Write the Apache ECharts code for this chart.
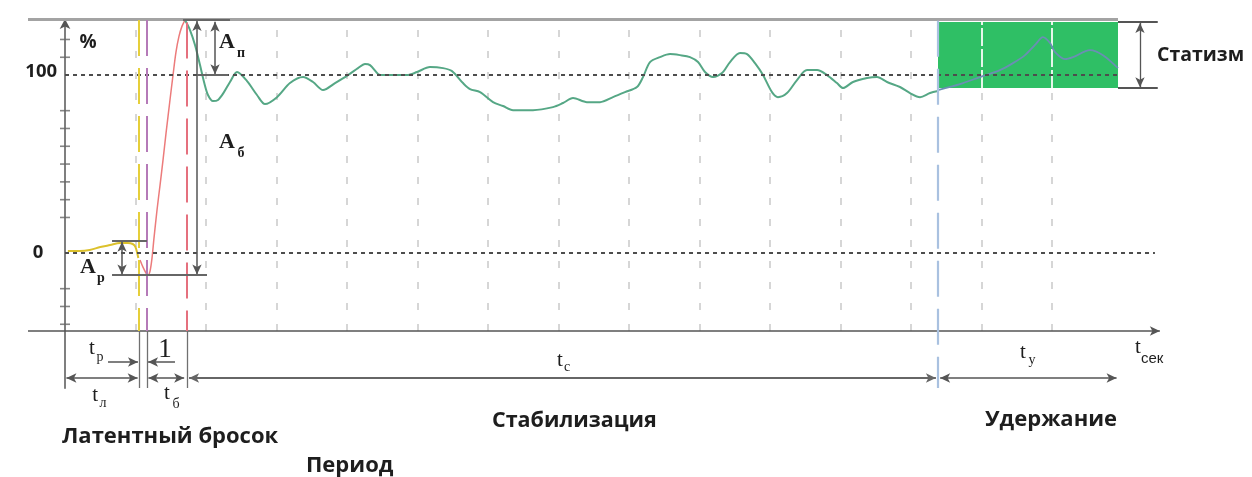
<!DOCTYPE html>
<html><head><meta charset="utf-8">
<script src="https://cdn.jsdelivr.net/npm/echarts@6/dist/echarts.min.js"></script>
<style>html,body{margin:0;padding:0;background:#fff}#c{width:1252px;height:477px}</style>
</head><body><div id="c"></div>
<script>
// ---- data (x in time units, y in %) ----
const latentCurve = [[0.04,1.1],[0.21,1.1],[0.35,1.7],[0.50,3.4],[0.64,4.5],[0.78,5.6],[0.89,5.6],[0.96,5.1],[1.00,3.4],[1.04,-2.8]];
const throwCurve = [[1.064,-3.9],[1.106,-7.9],[1.149,-11.2],[1.177,-12.4],[1.206,-10.1],[1.234,-2.8],[1.262,8.4],[1.305,24.2],[1.348,38.2],[1.390,52.2],[1.433,67.4],[1.489,86.0],[1.532,100.0],[1.574,112.9],[1.617,121.9],[1.660,127.5],[1.702,130.9]];
const stabCurve = [[1.702,130.9],[1.773,125.3],[1.844,116.9],[1.915,105.6],[1.972,96.1],[2.028,88.8],[2.099,85.4],[2.170,86.0],[2.255,90.4],[2.340,96.1],[2.440,101.7],[2.582,96.6],[2.723,88.8],[2.837,83.7],[3.007,87.6],[3.191,95.5],[3.376,98.9],[3.518,96.1],[3.660,91.6],[3.830,95.5],[4.014,100.0],[4.156,103.9],[4.255,106.2],[4.326,105.6],[4.440,100.6],[4.496,100.0],[4.851,100.0],[4.993,101.7],[5.177,104.5],[5.362,103.9],[5.489,102.2],[5.645,95.5],[5.745,92.1],[5.887,90.4],[6.071,84.8],[6.213,82.6],[6.355,80.3],[6.638,80.3],[6.922,82.0],[7.064,84.3],[7.206,87.1],[7.404,84.8],[7.589,84.8],[7.773,87.6],[7.943,90.4],[8.113,93.3],[8.199,98.9],[8.298,107.3],[8.440,110.1],[8.582,111.8],[8.723,111.2],[8.865,110.1],[8.979,107.3],[9.078,101.7],[9.191,98.9],[9.319,101.1],[9.433,107.3],[9.574,112.4],[9.674,111.8],[9.787,106.7],[9.901,100.0],[10.028,90.4],[10.113,87.6],[10.241,89.9],[10.383,97.2],[10.525,102.8],[10.667,102.8],[10.809,100.0],[10.950,95.5],[11.035,92.7],[11.177,96.1],[11.376,98.3],[11.518,98.9],[11.660,96.1],[11.844,93.3],[11.986,89.9],[12.128,87.6],[12.270,89.9],[12.383,91.0]];
const holdCurve = [[12.383,91.6],[12.695,94.9],[12.979,98.9],[13.262,102.8],[13.447,106.7],[13.617,111.2],[13.759,116.9],[13.872,121.3],[13.972,118.0],[14.043,112.9],[14.184,109.0],[14.298,110.1],[14.539,114.0],[14.723,111.2],[14.936,103.9]];
const refLevels = [0, 100];
const yTicks = [-40,-30,-20,20,30,40,50,60,70,80,110,120];
const gridTicks = [1,2,3,4,5,6,7,8,9,10,11,12,13,14];
// phase boundaries
const phase = {start:0, latEnd:1.05, throwStart:1.163, throwEnd:1.73, stabEnd:12.383, holdEnd:14.936};
const ampl = {ApTop:6.7, ApBottom:-12.4, peak:130.9, statLow:92.7, statHigh:129.8};

// ---- layout ----
const X0=-0.525, X1=15.6, Y0=-76, Y1=131.5;
const AXIS_Y = -43.8, DIM1 = -61.2, DIM2 = -70.2, EXT = -75.8, TOP = 131.5, XEND = 15.53;

const chart = echarts.init(document.getElementById('c'));
const dark = '#555';
function seg(p1, p2, style, s1, s2) {
  return [{coord:p1, symbol:s1||'none', symbolSize:[7,10], lineStyle:style}, {coord:p2, symbol:s2||'none', symbolSize:[7,10]}];
}
const solid = (c,w)=>({color:c,width:w,type:'solid'});
const dash = (c,w,d)=>({color:c,width:w,type:d});

const gridLines = [];
gridTicks.forEach(t=>{
  if (t > phase.stabEnd && t < phase.holdEnd) {
    gridLines.push(seg([t,AXIS_Y],[t,ampl.statLow],dash('#c9c9c9',1.5,[7,14])));
    gridLines.push(seg([t,ampl.statLow],[t,ampl.statHigh],dash('#e6f6ea',2,[18,3])));
  } else {
    gridLines.push(seg([t,AXIS_Y],[t,TOP-1],dash('#c9c9c9',1.5,[7,14])));
  }
});

const ann = [];
ann.push(seg([X0,TOP-0.4],[phase.holdEnd,TOP-0.4],solid('#a3a3a3',3)));
ann.push(seg([0,refLevels[1]],[phase.holdEnd,refLevels[1]],dash('#4d4d4d',2,[4,4])));
ann.push(seg([0,refLevels[0]],[15.46,refLevels[0]],dash('#4d4d4d',2,[4,4])));
ann.push(seg([X0,AXIS_Y],[XEND,AXIS_Y],solid(dark,1.6),'none','arrow'));
ann.push(seg([phase.latEnd,TOP-0.5],[phase.latEnd,AXIS_Y],dash('#e6cf3a',2,[36,12])));
ann.push(seg([phase.throwStart,TOP-0.5],[phase.throwStart,AXIS_Y],dash('#b57ab8',2,[36,12])));
ann.push(seg([phase.throwEnd,TOP-2],[phase.throwEnd,AXIS_Y],dash('#e5707e',2,[36,12])));
ann.push(seg([phase.stabEnd,TOP-1],[phase.stabEnd,EXT],dash('#a9c1e0',2.2,[36,12])));
[phase.latEnd, phase.throwStart, phase.throwEnd].forEach(v=>ann.push(seg([v,AXIS_Y],[v,EXT],solid('#707070',1.3))));
ann.push(seg([phase.holdEnd,ampl.statLow],[phase.holdEnd,EXT-1],solid('#666',1.6)));
ann.push(seg([0.61,DIM1],[phase.latEnd-0.015,DIM1],solid(dark,1.5),'none','arrow'));
ann.push(seg([1.56,DIM1],[phase.throwStart+0.015,DIM1],solid(dark,1.5),'none','arrow'));
ann.push(seg([phase.start+0.02,DIM2],[phase.latEnd-0.02,DIM2],solid(dark,1.5),'arrow','arrow'));
ann.push(seg([phase.throwStart+0.02,DIM2],[phase.throwEnd-0.04,DIM2],solid(dark,1.5),'arrow','arrow'));
ann.push(seg([phase.throwEnd+0.03,DIM2],[phase.stabEnd-0.03,DIM2],solid('#666',2),'arrow','arrow'));
ann.push(seg([phase.stabEnd+0.03,DIM2],[phase.holdEnd-0.02,DIM2],solid(dark,1.5),'arrow','arrow'));
ann.push(seg([1.674,ampl.peak],[2.34,ampl.peak],solid('#666',2.2)));
ann.push(seg([1.872,ampl.peak-0.5],[1.872,ampl.ApBottom+0.3],solid(dark,1.5),'arrow','arrow'));
ann.push(seg([2.128,ampl.peak-1],[2.128,refLevels[1]+0.5],solid(dark,1.5),'arrow','arrow'));
ann.push(seg([1.872,refLevels[1]],[2.312,refLevels[1]],solid('#666',2)));
ann.push(seg([0.667,ampl.ApTop],[phase.throwStart,ampl.ApTop],solid('#666',2)));
ann.push(seg([0.667,ampl.ApBottom],[2.014,ampl.ApBottom],solid('#666',2)));
ann.push(seg([0.809,ampl.ApTop-0.3],[0.809,ampl.ApBottom+0.3],solid(dark,1.5),'arrow','arrow'));
ann.push(seg([phase.holdEnd,ampl.statHigh],[15.50,ampl.statHigh],solid('#555',2)));
ann.push(seg([phase.holdEnd,ampl.statLow],[15.50,ampl.statLow],solid('#555',2)));
ann.push(seg([15.248,ampl.statHigh-0.5],[15.248,ampl.statLow+0.5],solid(dark,1.3),'arrow','arrow'));

const mlBase = {silent:true, label:{show:false}, emphasis:{disabled:true}, animation:false, symbol:['none','none']};

chart.setOption({
  animation:false,
  grid:{left:28, width:1136.8, top:19, height:369.35},
  xAxis:{type:'value', min:X0, max:X1, show:false, axisLine:{onZero:false}},
  yAxis:{type:'value', min:Y0, max:Y1,
    axisLine:{show:true, onZero:true, symbol:['none','arrow'], symbolSize:[8,10], lineStyle:{color:dark,width:1.5}},
    axisTick:{show:false}, axisLabel:{show:false}, splitLine:{show:false}},
  series:[
    {type:'line', data:[], z:1, silent:true,
      markArea:{silent:true, itemStyle:{color:'#2fbf65'}, label:{show:false},
        data:[[{coord:[phase.stabEnd, ampl.statLow]},{coord:[phase.holdEnd, ampl.statHigh]}]]}},
    {type:'line', data:[], z:2, silent:true, markLine:Object.assign({z:2, data:gridLines}, mlBase)},
    {type:'line', data:latentCurve, z:4, showSymbol:false, smooth:0.3, silent:true, lineStyle:{color:'#dcc12c',width:2}},
    {type:'line', data:throwCurve, z:4, showSymbol:false, smooth:0.3, silent:true, lineStyle:{color:'#ec7b7b',width:1.5}},
    {type:'line', data:stabCurve, z:4, showSymbol:false, smooth:0.3, silent:true, lineStyle:{color:'#55a785',width:2}},
    {type:'line', data:holdCurve, z:4, showSymbol:false, smooth:0.3, silent:true, lineStyle:{color:'#6a8fb3',width:1.8}},
    {type:'line', data:[], z:5, silent:true, markLine:Object.assign({z:5, data:ann}, mlBase)},
    {type:'scatter', data:yTicks.map(v=>[0,v]), z:6, silent:true, symbol:'rect', symbolSize:[10,1.6], itemStyle:{color:'#666'}}
  ]
});

// ---- text annotations ----
const P = (x,y)=>chart.convertToPixel({gridIndex:0},[x,y]);
const sans = (s)=>'bold '+s+'px "Open Sans", "Noto Sans", sans-serif';
const serifB = (s)=>'bold '+s+'px "Liberation Serif", serif';
const serif = (s)=>s+'px "Liberation Serif", serif';
const ink = '#1e1e1e';
const labels = [
  [0.326,118.0,'%',sans(19),'center',0,0],
  [-0.113,100,'100',sans(18.5),'right',0,-3],
  [-0.383,0,'0',sans(18.5),'center',0,0],
  [2.298,118.5,'A',serifB(22),'center',0,0],
  [2.298,118.5,'п',serifB(14),'center',14,11],
  [2.298,62.4,'A',serifB(22),'center',0,0],
  [2.298,62.4,'б',serifB(14),'center',14,11],
  [0.326,-7.9,'A',serifB(22),'center',0,0],
  [0.326,-7.9,'р',serifB(14),'center',13,11],
  [0.383,DIM1+7.8,'t',serif(21),'center',0,0],
  [0.383,DIM1+7.8,'р',serif(14),'center',8,9],
  [1.418,DIM1+6.7,'1',serif(27),'center',0,0],
  [0.426,DIM2-9.6,'t',serif(21),'center',0,0],
  [0.426,DIM2-9.6,'л',serif(14),'center',8,8],
  [1.447,DIM2-8.5,'t',serif(21),'center',0,0],
  [1.447,DIM2-8.5,'б',serif(14),'center',9,11],
  [7.021,DIM1+1.1,'t',serif(21),'center',0,0],
  [7.021,DIM1+1.1,'с',serif(14),'center',7,7],
  [13.589,DIM1+5.6,'t',serif(21),'center',0,0],
  [13.589,DIM1+5.6,'у',serif(14),'center',9,8],
  [15.22,AXIS_Y-9,'t',serif(21),'center',0,0],
  [15.22,AXIS_Y-9,'сек','15px "Liberation Sans", sans-serif','left',3,12],
  [-0.043,-103.4,'Латентный бросок',sans(22),'left',0,0],
  [6.057,-94.4,'Стабилизация',sans(21.5),'left',0,0],
  [3.418,-119.7,'Период',sans(22),'left',0,0],
  [13.05,-93.8,'Удержание',sans(22),'left',0,0],
  [15.49,111.2,'Статизм',sans(19.5),'left',0,0]
];
chart.setOption({graphic: labels.map(l=>{
  const p = P(l[0],l[1]);
  return {type:'text', x:p[0]+l[5], y:p[1]+l[6], silent:true, z:100,
    style:{text:l[2], font:l[3], fill:ink, align:l[4], verticalAlign:'middle'}};
})});
</script>
</body></html>
